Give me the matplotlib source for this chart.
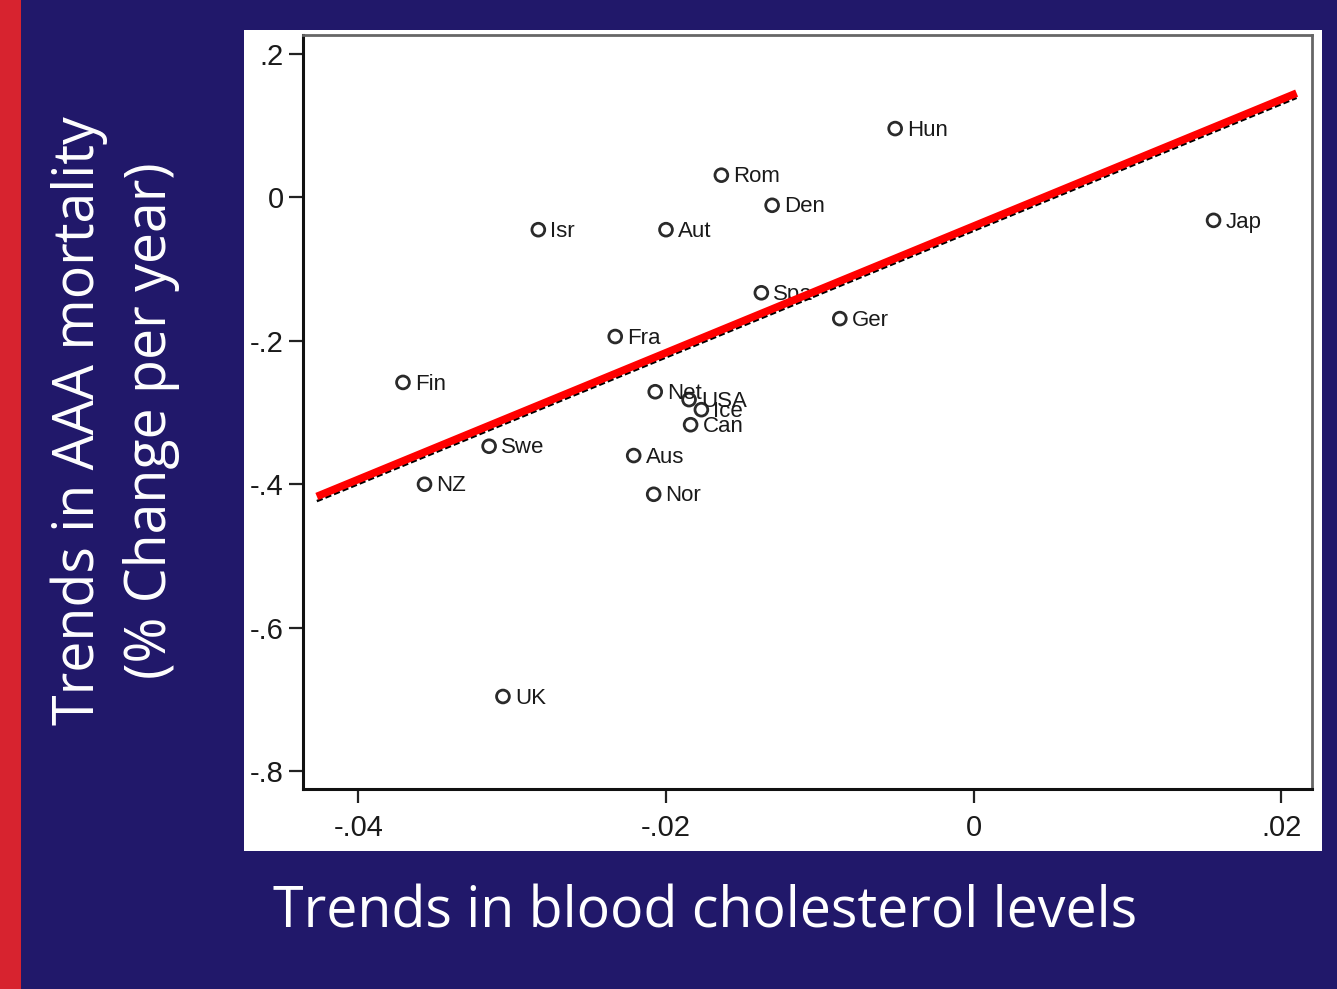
import matplotlib.pyplot as plt
import numpy as np
from matplotlib.patches import Rectangle

# country trends: cholesterol (x) vs AAA mortality (y)
countries = ["Hun", "Rom", "Den", "Jap", "Isr", "Aut", "Spa", "Ger", "Fra", "Fin",
             "Net", "USA", "Ice", "Can", "Swe", "Aus", "NZ", "Nor", "UK"]
chol_trend = [-0.0051, -0.0164, -0.0131, 0.0156, -0.0283, -0.0200, -0.0138, -0.0087,
              -0.0233, -0.0371, -0.0207, -0.0185, -0.0177, -0.0184, -0.0315, -0.0221,
              -0.0357, -0.0208, -0.0306]
aaa_trend = [0.096, 0.031, -0.011, -0.032, -0.045, -0.045, -0.133, -0.169, -0.194,
             -0.258, -0.271, -0.282, -0.296, -0.317, -0.347, -0.360, -0.400, -0.414,
             -0.696]

fit_slope = 8.83
fit_intercept = -0.040
fit_range = [-0.0427, 0.0210]

xticks = [-0.04, -0.02, 0, 0.02]
xtick_labels = ["-.04", "-.02", "0", ".02"]
yticks = [0.2, 0, -0.2, -0.4, -0.6, -0.8]
ytick_labels = [".2", "0", "-.2", "-.4", "-.6", "-.8"]

navy = "#21186a"

fig = plt.figure(figsize=(13.37, 9.89), dpi=100)
fig.patch.set_facecolor(navy)

# red strip on the left edge and white panel behind the plot
fig.patches.append(Rectangle((0, 0), 21 / 1337, 1, transform=fig.transFigure,
                             facecolor="#d7232f", edgecolor="none", zorder=-2))
fig.patches.append(Rectangle((244 / 1337, 1 - 851 / 989), 1078 / 1337, 821 / 989,
                             transform=fig.transFigure, facecolor="white",
                             edgecolor="none", zorder=-2))

ax = fig.add_axes([303 / 1337, 1 - 789 / 989, 1009 / 1337, 754 / 989])
ax.set_zorder(2)
ax.set_facecolor("white")

ax.scatter(chol_trend, aaa_trend, s=85, facecolors="none", edgecolors="#2a2a2a",
           linewidths=2.0, zorder=3)
for name, x, y in zip(countries, chol_trend, aaa_trend):
    ax.annotate(name, (x, y), xytext=(8.5, -1.2), textcoords="offset points",
                va="center", ha="left", fontsize=16, color="#1a1a1a",
                family="Liberation Sans", zorder=4)

# fitted line (dashed black) with the highlighted red trend drawn over it
xs = np.array(fit_range)
ax.plot(xs, fit_slope * xs + fit_intercept - 0.0065, color="black", lw=1.8,
        ls=(0, (2.5, 1.2)), zorder=4)
ax.plot(xs, fit_slope * xs + fit_intercept, color="#ff0000", lw=5.5,
        solid_capstyle="butt", zorder=5)

ax.set_xlim(-0.0436, 0.0220)
ax.set_ylim(-0.825, 0.2265)

ax.set_xticks(xticks)
ax.set_xticklabels(xtick_labels)
ax.set_yticks(yticks)
ax.set_yticklabels(ytick_labels)
ax.tick_params(axis="both", direction="out", length=10, width=1.6, color="#222222",
               labelsize=21, labelcolor="#1a1a1a", top=False, right=False)
ax.tick_params(axis="x", pad=8)
ax.tick_params(axis="y", pad=4)
for lab in ax.get_xticklabels() + ax.get_yticklabels():
    lab.set_family("Liberation Sans")

for side in ["left", "bottom"]:
    ax.spines[side].set_linewidth(2.2)
    ax.spines[side].set_color("#111111")
for side in ["top", "right"]:
    ax.spines[side].set_linewidth(2.0)
    ax.spines[side].set_color("#666666")

fig.text(0.0595, 0.575, "Trends in AAA mortality", rotation=90, ha="center",
         va="center", color="white", fontsize=40, family="Open Sans")
fig.text(0.1135, 0.575, "(% Change per year)", rotation=90, ha="center",
         va="center", color="white", fontsize=40, family="Open Sans")
fig.text(0.527, 1 - 913 / 989, "Trends in blood cholesterol levels", ha="center",
         va="center", color="white", fontsize=40, family="Open Sans")

fig.savefig("out.png", dpi=100, facecolor=navy)
